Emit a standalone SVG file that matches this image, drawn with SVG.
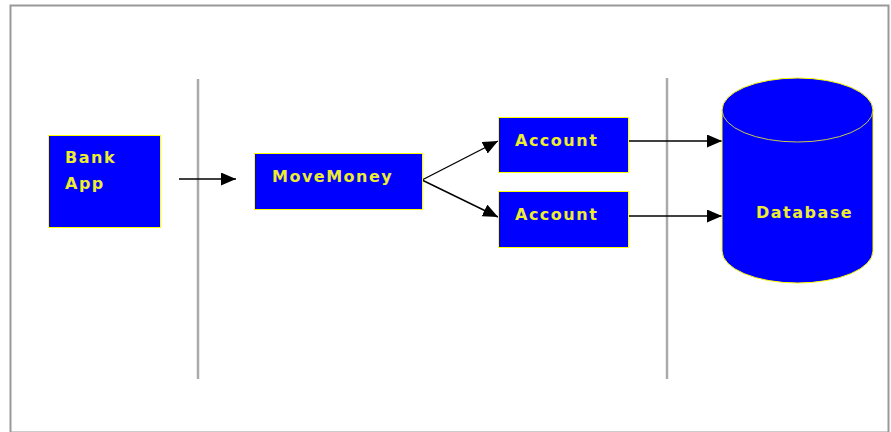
<svg xmlns="http://www.w3.org/2000/svg" width="891" height="432" viewBox="0 0 891 432">
<style>
.box{fill:#0000ff;stroke:#ffff00;stroke-width:1}
.lbl{font-family:"DejaVu Sans",Verdana,sans-serif;font-weight:bold;font-size:16px;fill:#ecec30;letter-spacing:1.5px}
.sep{stroke:#aaaaaa;stroke-width:2.5}
.con{stroke:#000;stroke-width:1.4;fill:none;marker-end:url(#ah)}
</style>
<defs>
<marker id="ah" viewBox="0 0 15 13" refX="15" refY="6.5" markerWidth="15" markerHeight="13" markerUnits="userSpaceOnUse" orient="auto">
<path d="M0,0 L15,6.5 L0,13 Z" fill="#000"/>
</marker>
</defs>
<rect x="0" y="0" width="891" height="432" fill="#fff"/>
<rect x="10.5" y="5.5" width="878" height="427" fill="#fff" stroke="#999" stroke-width="2"/>
<g id="separators">
<line class="sep" x1="198" y1="79" x2="198" y2="379"/>
<line class="sep" x1="667" y1="78" x2="667" y2="379"/>
</g>
<g id="connectors">
<line class="con" x1="179" y1="179" x2="236" y2="179"/>
<line class="con" x1="422" y1="180" x2="498" y2="141"/>
<line class="con" x1="422" y1="180" x2="498" y2="217"/>
<line class="con" x1="629" y1="141" x2="722" y2="141"/>
<line class="con" x1="629" y1="216" x2="722" y2="216"/>
</g>
<g id="bankapp">
<rect class="box" x="48.5" y="135.5" width="112" height="92"/>
<text class="lbl" x="65" y="163">Bank</text>
<text class="lbl" x="65" y="189">App</text>
</g>
<g id="movemoney">
<rect class="box" x="254.5" y="153.5" width="168" height="56"/>
<text class="lbl" x="272" y="182">MoveMoney</text>
</g>
<g id="account1">
<rect class="box" x="498.5" y="117.5" width="130" height="55"/>
<text class="lbl" x="515" y="146">Account</text>
</g>
<g id="account2">
<rect class="box" x="498.5" y="191.5" width="130" height="56"/>
<text class="lbl" x="515" y="220">Account</text>
</g>
<g id="database">
<path class="box" d="M722,110 L722,251 A75.5,32 0 0 0 873,251 L873,110 A75.5,32 0 0 0 722,110 Z"/>
<path d="M722,110 A75.5,32 0 0 0 873,110" fill="none" stroke="#c8c850" stroke-width="1"/>
<text class="lbl" x="756" y="218">Database</text>
</g>
</svg>
